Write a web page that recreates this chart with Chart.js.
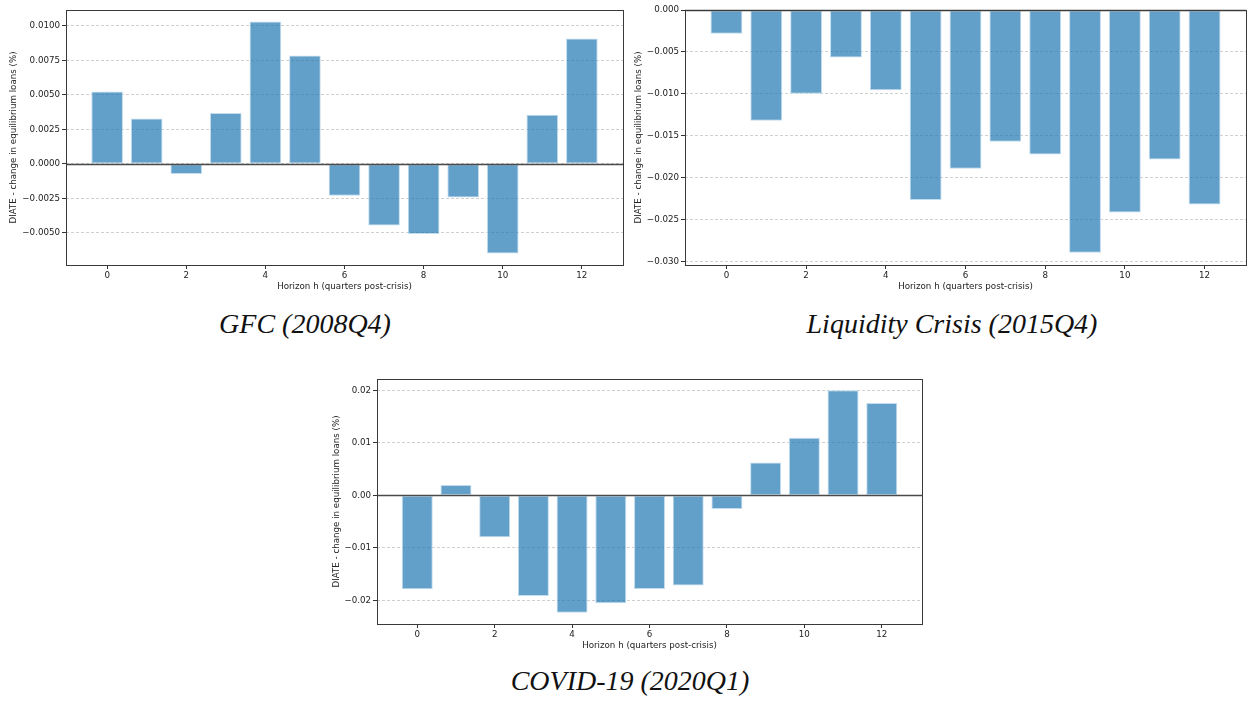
<!DOCTYPE html>
<html>
<head>
<meta charset="utf-8">
<script src="https://cdn.jsdelivr.net/npm/chart.js@4/dist/chart.umd.min.js"></script>
<style>
  html, body { margin: 0; padding: 0; background: #ffffff; }
  body { width: 1247px; height: 702px; position: relative; overflow: hidden; }
  .box { position: absolute; }
  .cap { position: absolute; width: 500px; text-align: center; font-family: "Liberation Serif", serif; font-style: italic; font-size: 28px; line-height: 28px; color: #111; }
</style>
</head>
<body>
<div class="box" style="left:0px;top:0px;width:630px;height:300px;"><canvas id="c1" width="630" height="300"></canvas></div>
<div class="box" style="left:630px;top:0px;width:617px;height:300px;"><canvas id="c2" width="617" height="300"></canvas></div>
<div class="box" style="left:320px;top:370px;width:610px;height:290px;"><canvas id="c3" width="610" height="290"></canvas></div>
<div class="cap" style="left:55px;top:310px;">GFC (2008Q4)</div>
<div class="cap" style="left:702px;top:310px;">Liquidity Crisis (2015Q4)</div>
<div class="cap" style="left:380px;top:667px;">COVID-19 (2020Q1)</div>
<script>
// ---- data ----
const horizons = [0, 1, 2, 3, 4, 5, 6, 7, 8, 9, 10, 11, 12];
const gfcValues = [0.00525, 0.0033, -0.00072, 0.00369, 0.01031, 0.00785, -0.00231, -0.00445, -0.00508, -0.00243, -0.00648, 0.00357, 0.00908];
const liqValues = [-0.00282, -0.0132, -0.00998, -0.00567, -0.00956, -0.02263, -0.01891, -0.0157, -0.0172, -0.0289, -0.0241, -0.0178, -0.02315];
const covidValues = [-0.01787, 0.00198, -0.00798, -0.01913, -0.02236, -0.02053, -0.0178, -0.01717, -0.00259, 0.00627, 0.01097, 0.02004, 0.01757];

const xTicks = [0, 2, 4, 6, 8, 10, 12];
const gfcYTicks = [-0.005, -0.0025, 0, 0.0025, 0.005, 0.0075, 0.01];
const liqYTicks = [-0.03, -0.025, -0.02, -0.015, -0.01, -0.005, 0];
const covidYTicks = [-0.02, -0.01, 0, 0.01, 0.02];

const xTitle = 'Horizon h (quarters post-crisis)';
const yTitle = 'DIATE - change in equilibrium loans (%)';

// ---- styling ----
const FONT = { family: '"DejaVu Sans", sans-serif', size: 8.7 };
const TEXT = '#222222';
const barFill = 'rgba(31,119,180,0.7)';
const barEdge = 'rgba(195,220,238,1)';

const framePlugin = {
  id: 'frame',
  afterDatasetsDraw(chart) {
    const { ctx, chartArea: a, scales } = chart;
    ctx.save();
    const y0 = Math.round(scales.y.getPixelForValue(0)) + 0.5;
    ctx.strokeStyle = '#4a4a4a';
    ctx.lineWidth = 1.3;
    ctx.beginPath(); ctx.moveTo(a.left, y0); ctx.lineTo(a.right, y0); ctx.stroke();
    ctx.strokeStyle = '#3a3a3a';
    ctx.lineWidth = 1;
    ctx.strokeRect(Math.round(a.left) + 0.5, Math.round(a.top) + 0.5, Math.round(a.right - a.left), Math.round(a.bottom - a.top));
    ctx.restore();
  }
};

function fmt(dec) {
  return function (v) {
    let s = Math.abs(v) < 1e-12 ? (0).toFixed(dec) : Number(v).toFixed(dec);
    return s.replace('-', '\u2212');
  };
}

function makeChart(id, values, yTicks, yMin, yMax, dec, layout) {
  const ctx = document.getElementById(id);
  return new Chart(ctx, {
    type: 'bar',
    data: {
      datasets: [{
        data: horizons.map((h, i) => ({ x: h, y: values[i] })),
        backgroundColor: barFill,
        borderColor: barEdge,
        borderWidth: 1,
        borderSkipped: false,
        categoryPercentage: 1.0,
        barPercentage: 0.8
      }]
    },
    options: {
      responsive: false,
      devicePixelRatio: 1,
      animation: false,
      events: [],
      layout: { padding: layout.padding },
      plugins: { legend: { display: false }, tooltip: { enabled: false }, title: { display: false } },
      scales: {
        x: {
          type: 'linear',
          offset: false,
          min: -1.04, max: 13.04,
          afterBuildTicks(s) { s.ticks = xTicks.map(v => ({ value: v })); },
          afterFit(s) { s.height = layout.xh; },
          grid: { display: true, offset: false, drawOnChartArea: false, drawTicks: true, tickLength: 4, tickColor: '#333333', tickWidth: 1 },
          border: { display: false },
          ticks: { font: FONT, color: TEXT, padding: 2, maxRotation: 0, autoSkip: false, callback: v => String(v) },
          title: { display: true, text: xTitle, font: FONT, color: TEXT, padding: { top: 0, bottom: layout.xtp } }
        },
        y: {
          type: 'linear',
          min: yMin, max: yMax,
          afterBuildTicks(s) { s.ticks = yTicks.map(v => ({ value: v })); },
          afterFit(s) { s.width = layout.yw; },
          grid: { display: true, offset: false, color: 'rgba(176,176,176,0.75)', lineWidth: 0.8, drawTicks: true, tickLength: 4, tickColor: '#333333', tickWidth: 1, tickBorderDash: [] },
          border: { display: false, dash: [3, 2] },
          ticks: { font: FONT, color: TEXT, padding: 2, autoSkip: false, callback: fmt(dec) },
          title: { display: true, text: yTitle, font: FONT, color: TEXT, padding: { top: layout.ytp, bottom: 0 } }
        }
      }
    },
    plugins: [framePlugin]
  });
}

makeChart('c1', gfcValues, gfcYTicks, -0.00732, 0.01115, 4,
  { padding: { top: 10, right: 7, left: 0, bottom: 0 }, yw: 66, xh: 35, ytp: 9, xtp: 8.5 });
makeChart('c2', liqValues, liqYTicks, -0.03036, 0, 3,
  { padding: { top: 10, right: 1, left: 0, bottom: 0 }, yw: 55, xh: 35, ytp: 3.5, xtp: 8.5 });
makeChart('c3', covidValues, covidYTicks, -0.02448, 0.02216, 2,
  { padding: { top: 9, right: 8, left: 0, bottom: 0 }, yw: 57, xh: 36, ytp: 12, xtp: 9 });
</script>
</body>
</html>
